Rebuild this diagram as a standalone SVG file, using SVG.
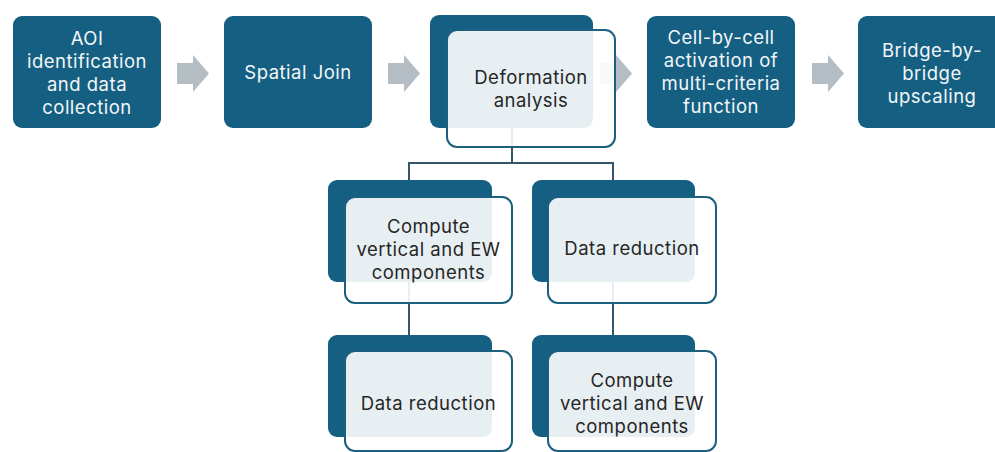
<svg xmlns="http://www.w3.org/2000/svg" width="995" height="452" viewBox="0 0 995 452">
<style>
.dark{fill:#156082}
.light{fill:#ffffff;fill-opacity:0.9;stroke:#1d5f7f;stroke-width:2}
.wt{fill:#f2f6f8;font-family:Inter,"Open Sans","Liberation Sans",sans-serif;font-size:18.5px;letter-spacing:0.5px;text-anchor:middle;dominant-baseline:central}
.bt{fill:#262626;font-family:Inter,"Open Sans","Liberation Sans",sans-serif;font-size:18.5px;letter-spacing:0.5px;text-anchor:middle;dominant-baseline:central}
.arr{fill:#b4bcc4}
.line{fill:none;stroke:#34556a;stroke-width:2}
</style>
<rect width="995" height="452" fill="#ffffff"/>
<g id="connectors">
<path class="arr" d="M177,63H193V55L209,73.5L193,92V84H177Z"/>
<path class="arr" d="M388,63H404V55L420,73.5L404,92V84H388Z"/>
<path class="arr" d="M600,63H616V55L632,73.5L616,92V84H600Z"/>
<path class="arr" d="M812,63H828V55L844,73.5L828,92V84H812Z"/>
<path class="line" d="M512,128V163M409,180V163H613V180"/>
<path class="line" d="M409,282V335"/>
<path class="line" d="M613,282V335"/>
</g>
<g id="n1">
<rect class="dark" x="13" y="16" width="148" height="112" rx="9"/>
<text class="wt" x="87" y="38">AOI</text>
<text class="wt" x="87" y="61">identification</text>
<text class="wt" x="87" y="84">and data</text>
<text class="wt" x="87" y="107">collection</text>
</g>
<g id="n2">
<rect class="dark" x="224" y="16" width="148" height="112" rx="9"/>
<text class="wt" x="298" y="72">Spatial Join</text>
</g>
<g id="n3">
<rect class="dark" x="430" y="15" width="163" height="113" rx="9"/>
<rect class="light" x="447" y="30" width="168" height="117" rx="10"/>
<text class="bt" x="531" y="77">Deformation</text>
<text class="bt" x="531" y="100">analysis</text>
</g>
<g id="n4">
<rect class="dark" x="647" y="16" width="148" height="112" rx="9"/>
<text class="wt" x="721" y="37">Cell-by-cell</text>
<text class="wt" x="721" y="60">activation of</text>
<text class="wt" x="721" y="83">multi-criteria</text>
<text class="wt" x="721" y="106">function</text>
</g>
<g id="n5">
<rect class="dark" x="858" y="16" width="148" height="112" rx="9"/>
<text class="wt" x="932" y="50">Bridge-by-</text>
<text class="wt" x="932" y="73">bridge</text>
<text class="wt" x="932" y="96">upscaling</text>
</g>
<g id="n6">
<rect class="dark" x="328" y="180" width="164" height="102" rx="9"/>
<rect class="light" x="345" y="197" width="167" height="106" rx="10"/>
<text class="bt" x="428.5" y="226">Compute</text>
<text class="bt" x="428.5" y="249">vertical and EW</text>
<text class="bt" x="428.5" y="272">components</text>
</g>
<g id="n7">
<rect class="dark" x="532" y="180" width="163" height="102" rx="9"/>
<rect class="light" x="548" y="197" width="168" height="106" rx="10"/>
<text class="bt" x="632" y="248">Data reduction</text>
</g>
<g id="n8">
<rect class="dark" x="328" y="335" width="164" height="102" rx="9"/>
<rect class="light" x="345" y="351" width="167" height="100" rx="10"/>
<text class="bt" x="428.5" y="403">Data reduction</text>
</g>
<g id="n9">
<rect class="dark" x="532" y="335" width="163" height="102" rx="9"/>
<rect class="light" x="548" y="351" width="168" height="100" rx="10"/>
<text class="bt" x="632" y="380">Compute</text>
<text class="bt" x="632" y="403">vertical and EW</text>
<text class="bt" x="632" y="426">components</text>
</g>
</svg>
